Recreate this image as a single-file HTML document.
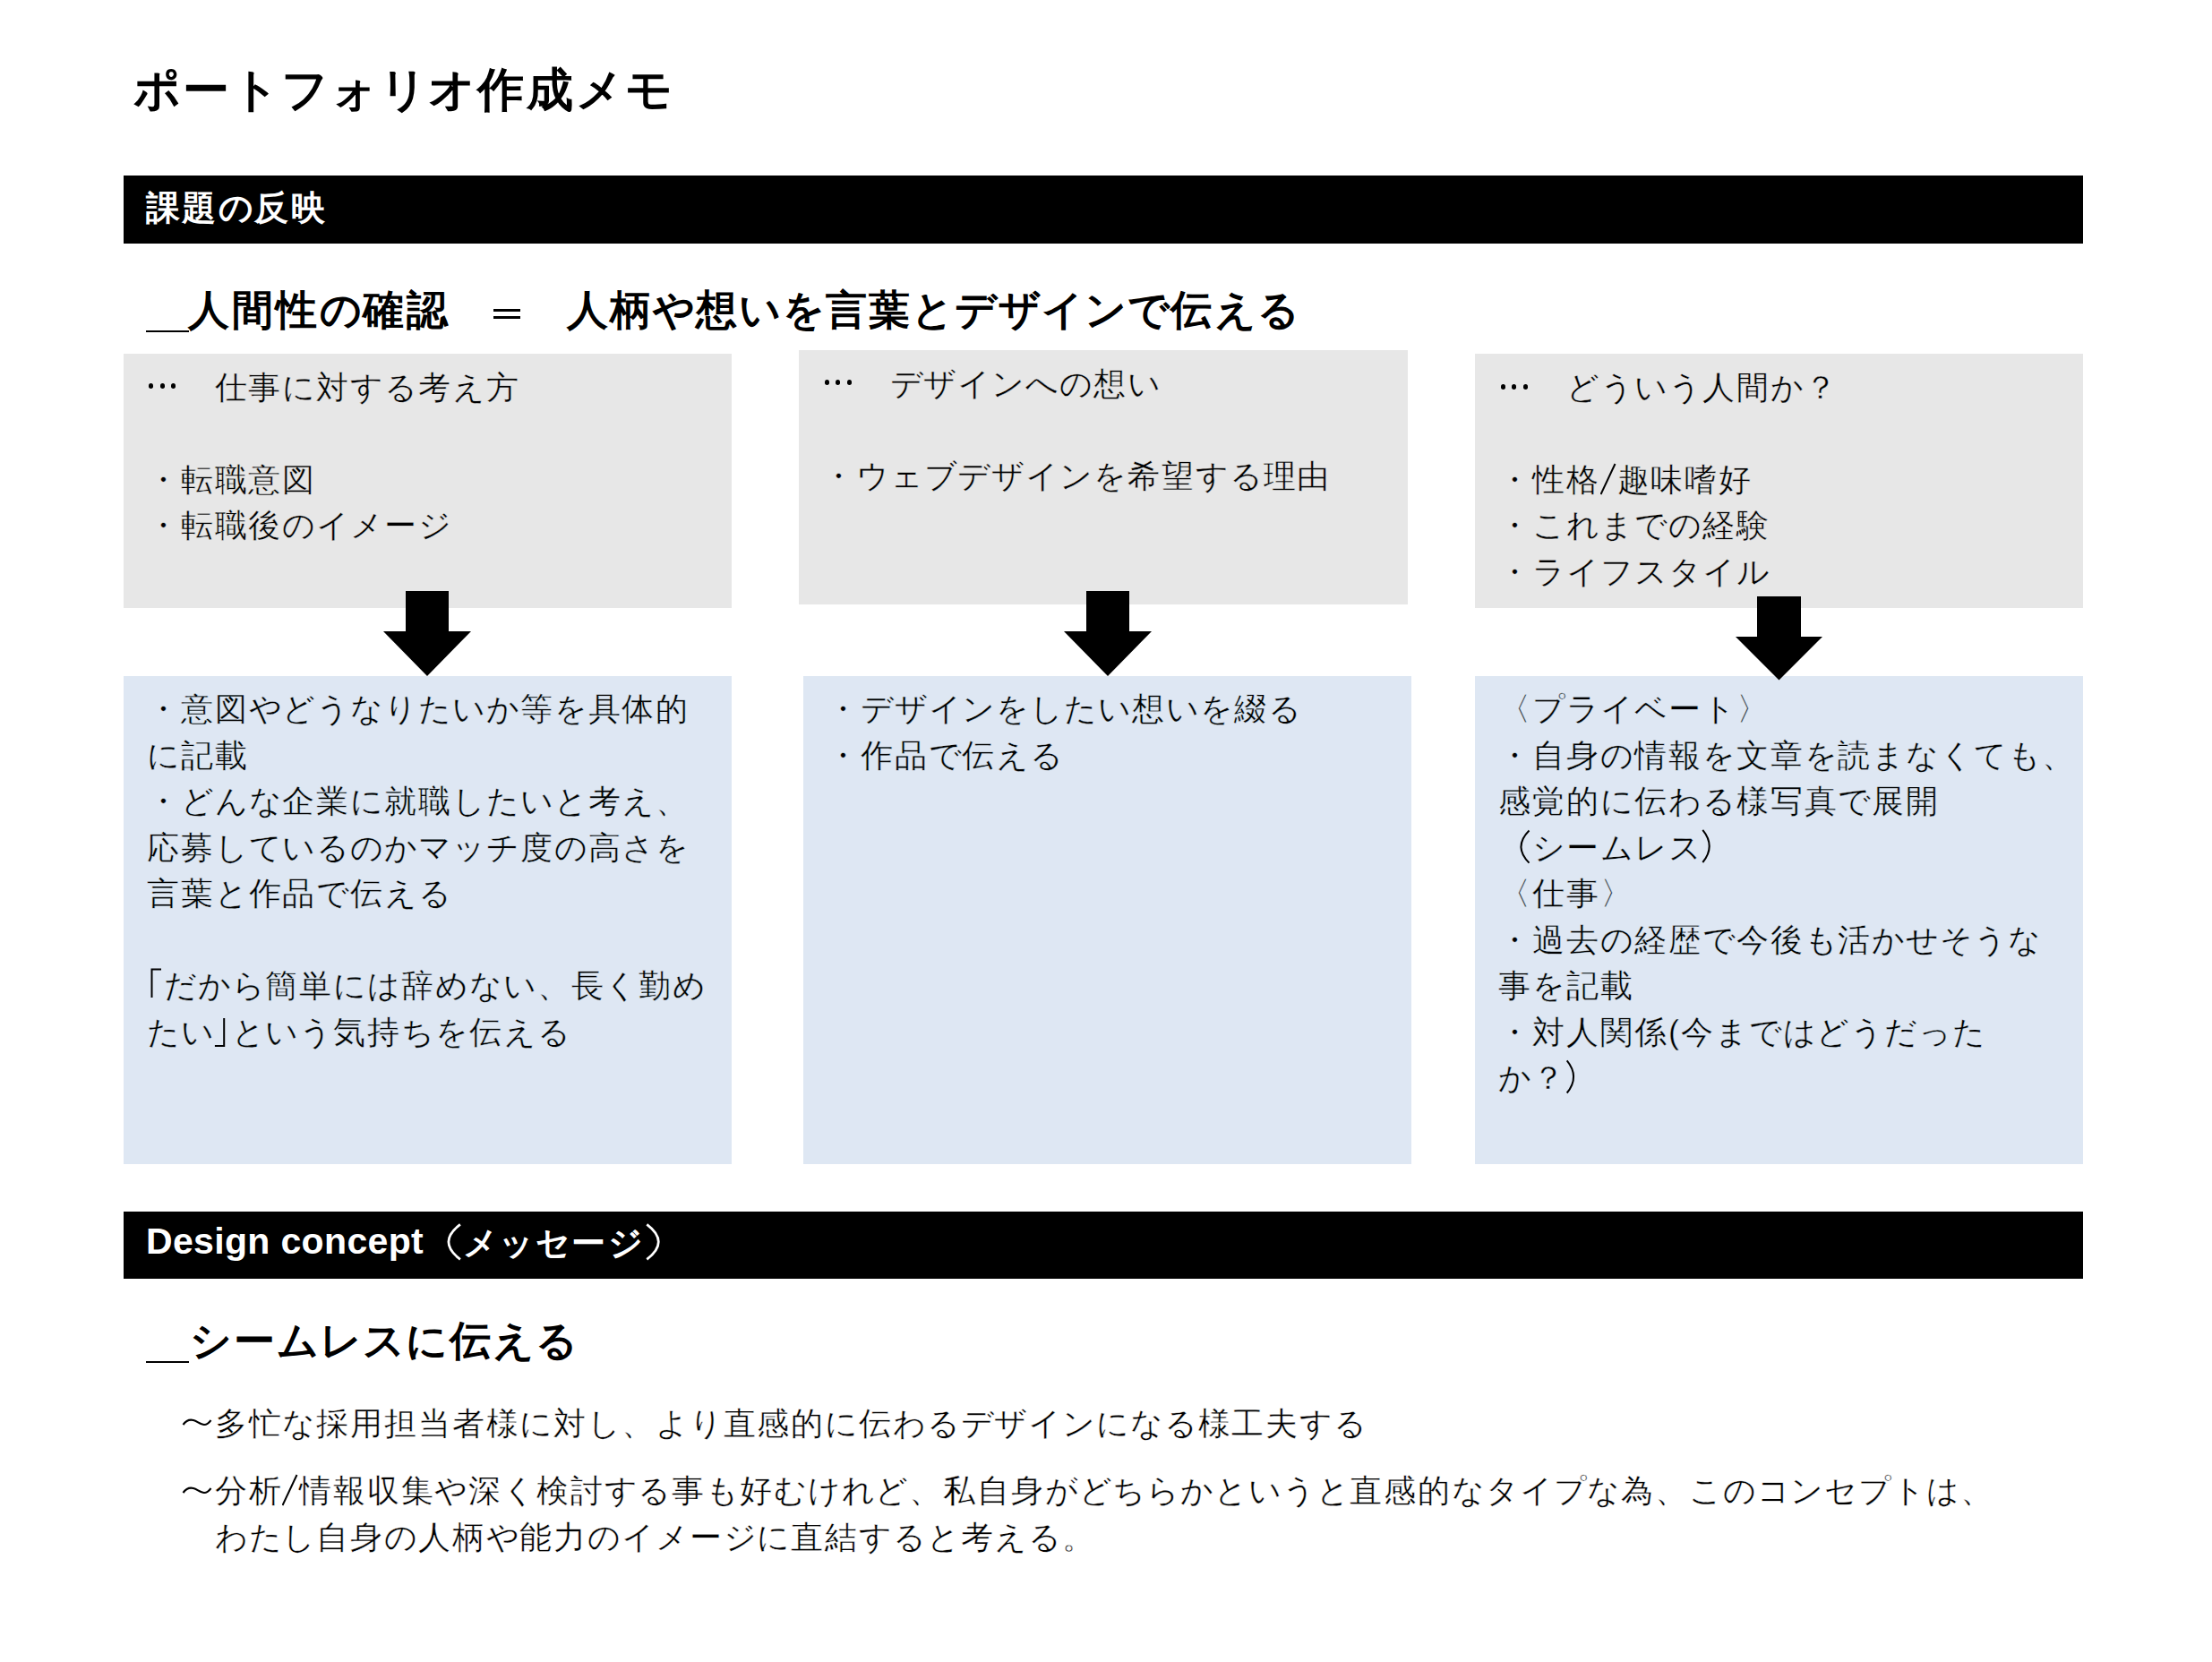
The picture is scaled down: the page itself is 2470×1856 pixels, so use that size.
<!DOCTYPE html>
<html>
<head>
<meta charset="utf-8">
<style>
html,body{margin:0;padding:0;background:#fff;}
body{width:2470px;height:1856px;position:relative;overflow:hidden;font-family:"Liberation Sans",sans-serif;color:#000;}
.a{position:absolute;white-space:pre;}
.r{position:absolute;background:#000;}
.grey{position:absolute;background:#e7e7e7;}
.blue{position:absolute;background:#dee7f3;}
.tg{-webkit-text-stroke:0.4px #e7e7e7;}
.tb{-webkit-text-stroke:0.4px #dee7f3;}
.tw{-webkit-text-stroke:0.4px #fff;}
.dot{position:absolute;width:5px;height:5.5px;border-radius:50%;background:#000;}
</style>
</head>
<body>
<div class="a " style="left:149px;top:72.5px;font-size:52px;letter-spacing:2.900px;line-height:54.9px;font-weight:bold;"><span style="letter-spacing:1.900px">ポ</span>ー<span style="letter-spacing:1.900px">トフォリオ</span>作成<span style="letter-spacing:1.900px">メモ</span></div>
<div class="r" style="left:138px;top:196px;width:2188px;height:76px;"></div>
<div class="a " style="left:162.5px;top:212px;font-size:38px;letter-spacing:2.600px;line-height:40.6px;font-weight:bold;color:#fff;">課題<span style="letter-spacing:1.600px">の</span>反映</div>
<div class="r" style="left:163px;top:369px;width:48px;height:2px;"></div>
<div class="a " style="left:210.4px;top:322px;font-size:46px;letter-spacing:2.700px;line-height:48.7px;font-weight:bold;">人間性<span style="letter-spacing:1.700px">の</span>確認</div>
<div class="r" style="left:551px;top:345px;width:30px;height:2.7px;"></div>
<div class="r" style="left:551px;top:353.1px;width:30px;height:2.7px;"></div>
<div class="a " style="left:632.65px;top:322px;font-size:46px;letter-spacing:2.200px;line-height:48.2px;font-weight:bold;">人柄<span style="letter-spacing:1.200px">や</span>想<span style="letter-spacing:1.200px">いを</span>言葉<span style="letter-spacing:1.200px">とデザインで</span>伝<span style="letter-spacing:1.200px">える</span></div>
<div class="grey" style="left:138px;top:395px;width:679px;height:284px;"></div>
<div class="grey" style="left:892px;top:391px;width:680px;height:284px;"></div>
<div class="grey" style="left:1647px;top:395px;width:679px;height:284px;"></div>
<div class="blue" style="left:138px;top:755px;width:679px;height:545px;"></div>
<div class="blue" style="left:897px;top:755px;width:679px;height:545px;"></div>
<div class="blue" style="left:1647px;top:755px;width:679px;height:545px;"></div>
<div class="dot" style="left:166.0px;top:428px;"></div><div class="dot" style="left:178.7px;top:428px;"></div><div class="dot" style="left:191.4px;top:428px;"></div>
<div class="a tg" style="left:239.60000000000002px;top:406.6px;font-size:36px;letter-spacing:1.900px;line-height:51.5px;">仕事<span style="letter-spacing:0.900px">に</span>対<span style="letter-spacing:0.900px">する</span>考<span style="letter-spacing:0.900px">え</span>方</div>
<div class="a tg" style="left:163.8px;top:509.6px;font-size:36px;letter-spacing:1.900px;line-height:51.5px;">・転職意図
・転職後<span style="letter-spacing:0.900px">のイメ</span>ー<span style="letter-spacing:0.900px">ジ</span></div>
<div class="dot" style="left:920.6px;top:424px;"></div><div class="dot" style="left:933.3px;top:424px;"></div><div class="dot" style="left:946.0px;top:424px;"></div>
<div class="a tg" style="left:993.5999999999999px;top:402.6px;font-size:36px;letter-spacing:1.900px;line-height:51.5px;"><span style="letter-spacing:0.900px">デザインへの</span>想<span style="letter-spacing:0.900px">い</span></div>
<div class="a tg" style="left:917.8px;top:505.6px;font-size:36px;letter-spacing:1.900px;line-height:51.5px;">・<span style="letter-spacing:0.900px">ウェブデザインを</span>希望<span style="letter-spacing:0.900px">する</span>理由</div>
<div class="dot" style="left:1675.6px;top:429px;"></div><div class="dot" style="left:1688.3px;top:429px;"></div><div class="dot" style="left:1701.0px;top:429px;"></div>
<div class="a tg" style="left:1749.2px;top:406.6px;font-size:36px;letter-spacing:1.900px;line-height:51.5px;"><span style="letter-spacing:0.900px">どういう</span>人間<span style="letter-spacing:0.900px">か</span>？</div>
<div class="a tg" style="left:1673.4px;top:509.6px;font-size:36px;letter-spacing:1.900px;line-height:51.5px;">・性格<svg width="18.5" height="36" style="vertical-align:-5px;letter-spacing:0"><line x1="0.5" y1="35" x2="16.5" y2="1" stroke="#000" stroke-width="2"/></svg>趣味嗜好
・<span style="letter-spacing:0.900px">これまでの</span>経験
・<span style="letter-spacing:0.900px">ライフスタイル</span></div>
<svg class="a" style="left:0;top:0;" width="2470" height="1856">
<polygon points="453,660 501,660 501,705 526,705 477,755 428,705 453,705" fill="#000"/>
<polygon points="1213,660 1261,660 1261,705 1286,705 1237,755 1188,705 1213,705" fill="#000"/>
<polygon points="1962,666 2011,666 2011,711 2035,711 1986.5,759.5 1938,711 1962,711" fill="#000"/>
<path d="M204.5,1591 C208,1586 212,1585 216,1586 S224,1591 228,1591 S234,1588 235.5,1586" fill="none" stroke="#000" stroke-width="2.2"/>
<path d="M204.5,1667 C208,1662 212,1661 216,1662 S224,1667 228,1667 S234,1664 235.5,1662" fill="none" stroke="#000" stroke-width="2.2"/>
</svg>
<div class="a tb" style="left:163.8px;top:766.1px;font-size:36px;letter-spacing:1.900px;line-height:51.5px;">・意図<span style="letter-spacing:0.900px">やどうなりたいか</span>等<span style="letter-spacing:0.900px">を</span>具体的
<span style="letter-spacing:0.900px">に</span>記載
・<span style="letter-spacing:0.900px">どんな</span>企業<span style="letter-spacing:0.900px">に</span>就職<span style="letter-spacing:0.900px">したいと</span>考<span style="letter-spacing:0.900px">え</span>、
応募<span style="letter-spacing:0.900px">しているのかマッチ</span>度<span style="letter-spacing:0.900px">の</span>高<span style="letter-spacing:0.900px">さを</span>
言葉<span style="letter-spacing:0.900px">と</span>作品<span style="letter-spacing:0.900px">で</span>伝<span style="letter-spacing:0.900px">える</span>

<span style="display:inline-block;width:18.95px;letter-spacing:0"></span><span style="letter-spacing:0.900px">だから</span>簡単<span style="letter-spacing:0.900px">には</span>辞<span style="letter-spacing:0.900px">めない</span>、長<span style="letter-spacing:0.900px">く</span>勤<span style="letter-spacing:0.900px">め</span>
<span style="letter-spacing:0.900px">たい</span><span style="display:inline-block;width:18.95px;letter-spacing:0"></span><span style="letter-spacing:0.900px">という</span>気持<span style="letter-spacing:0.900px">ちを</span>伝<span style="letter-spacing:0.900px">える</span></div>
<div class="a tb" style="left:922.8px;top:766.1px;font-size:36px;letter-spacing:1.900px;line-height:51.5px;">・<span style="letter-spacing:0.900px">デザインをしたい</span>想<span style="letter-spacing:0.900px">いを</span>綴<span style="letter-spacing:0.900px">る</span>
・作品<span style="letter-spacing:0.900px">で</span>伝<span style="letter-spacing:0.900px">える</span></div>
<div class="a tb" style="left:1673.4px;top:766.1px;font-size:36px;letter-spacing:1.900px;line-height:51.5px;">〈<span style="letter-spacing:0.900px">プライベ</span>ー<span style="letter-spacing:0.900px">ト</span>〉
・自身<span style="letter-spacing:0.900px">の</span>情報<span style="letter-spacing:0.900px">を</span>文章<span style="letter-spacing:0.900px">を</span>読<span style="letter-spacing:0.900px">まなくても</span>、
感覚的<span style="letter-spacing:0.900px">に</span>伝<span style="letter-spacing:0.900px">わる</span>様写真<span style="letter-spacing:0.900px">で</span>展開
　<span style="letter-spacing:0.900px">シ</span>ー<span style="letter-spacing:0.900px">ムレス</span>　
〈仕事〉
・過去<span style="letter-spacing:0.900px">の</span>経歴<span style="letter-spacing:0.900px">で</span>今後<span style="letter-spacing:0.900px">も</span>活<span style="letter-spacing:0.900px">かせそうな</span>
事<span style="letter-spacing:0.900px">を</span>記載
・対人関係<span style="display:inline-block;width:14px;letter-spacing:0">(</span>今<span style="letter-spacing:0.900px">まではどうだった</span>
<span style="letter-spacing:0.900px">か</span>？　</div>
<div class="r" style="left:138px;top:1353px;width:2188px;height:75px;"></div>
<div class="a" style="left:163px;top:1366px;font-size:41px;letter-spacing:0.34px;line-height:41px;font-weight:bold;color:#fff;">Design concept</div>
<div class="a " style="left:476px;top:1368px;font-size:38px;letter-spacing:2.500px;line-height:40.5px;font-weight:bold;color:#fff;">　<span style="letter-spacing:1.500px">メッセ</span>ー<span style="letter-spacing:1.500px">ジ</span>　</div>
<div class="r" style="left:163px;top:1520px;width:48px;height:2px;"></div>
<div class="a " style="left:212.4px;top:1473px;font-size:46px;letter-spacing:2.200px;line-height:48.2px;font-weight:bold;"><span style="letter-spacing:1.200px">シ</span>ー<span style="letter-spacing:1.200px">ムレスに</span>伝<span style="letter-spacing:1.200px">える</span></div>
<div class="a tw" style="left:239.75px;top:1564.1px;font-size:36px;letter-spacing:1.850px;line-height:51.5px;">多忙<span style="letter-spacing:0.850px">な</span>採用担当者様<span style="letter-spacing:0.850px">に</span>対<span style="letter-spacing:0.850px">し</span>、<span style="letter-spacing:0.850px">より</span>直感的<span style="letter-spacing:0.850px">に</span>伝<span style="letter-spacing:0.850px">わるデザインになる</span>様工夫<span style="letter-spacing:0.850px">する</span></div>
<div class="a tw" style="left:239.75px;top:1639.0px;font-size:36px;letter-spacing:1.850px;line-height:51.5px;">分析<svg width="18.5" height="36" style="vertical-align:-5px;letter-spacing:0"><line x1="0.5" y1="35" x2="16.5" y2="1" stroke="#000" stroke-width="2"/></svg>情報収集<span style="letter-spacing:0.850px">や</span>深<span style="letter-spacing:0.850px">く</span>検討<span style="letter-spacing:0.850px">する</span>事<span style="letter-spacing:0.850px">も</span>好<span style="letter-spacing:0.850px">むけれど</span>、私自身<span style="letter-spacing:0.850px">がどちらかというと</span>直感的<span style="letter-spacing:0.850px">なタイプな</span>為、<span style="letter-spacing:0.850px">このコンセプトは</span>、
<span style="letter-spacing:0.850px">わたし</span>自身<span style="letter-spacing:0.850px">の</span>人柄<span style="letter-spacing:0.850px">や</span>能力<span style="letter-spacing:0.850px">のイメ</span>ー<span style="letter-spacing:0.850px">ジに</span>直結<span style="letter-spacing:0.850px">すると</span>考<span style="letter-spacing:0.850px">える</span>。</div>
<svg class="a" style="left:0;top:0;" width="2470" height="1856" fill="none" stroke="#000" stroke-width="2"><path d="M1707.5,927.5 Q1689.5,945.6 1707.5,963.6"/><path d="M1901.3,926.8 Q1916.1,944.9 1901.3,963.0"/><path d="M1749.7,1184.3 Q1764.5,1202.4 1749.7,1220.5"/><path d="M169.5,1114.0 V1082.4 H180.0" stroke-linejoin="miter"/><path d="M239.9,1168.0 H250.2 V1137.1" stroke-linejoin="miter"/></svg>
<svg class="a" style="left:0;top:0;" width="2470" height="1856" fill="none" stroke="#fff" stroke-width="2.8"><path d="M513.9,1367.3 Q487.9,1386.8 513.9,1406.4"/><path d="M722.3,1367.3 Q748.3,1386.8 722.3,1406.4"/></svg>
</body>
</html>
